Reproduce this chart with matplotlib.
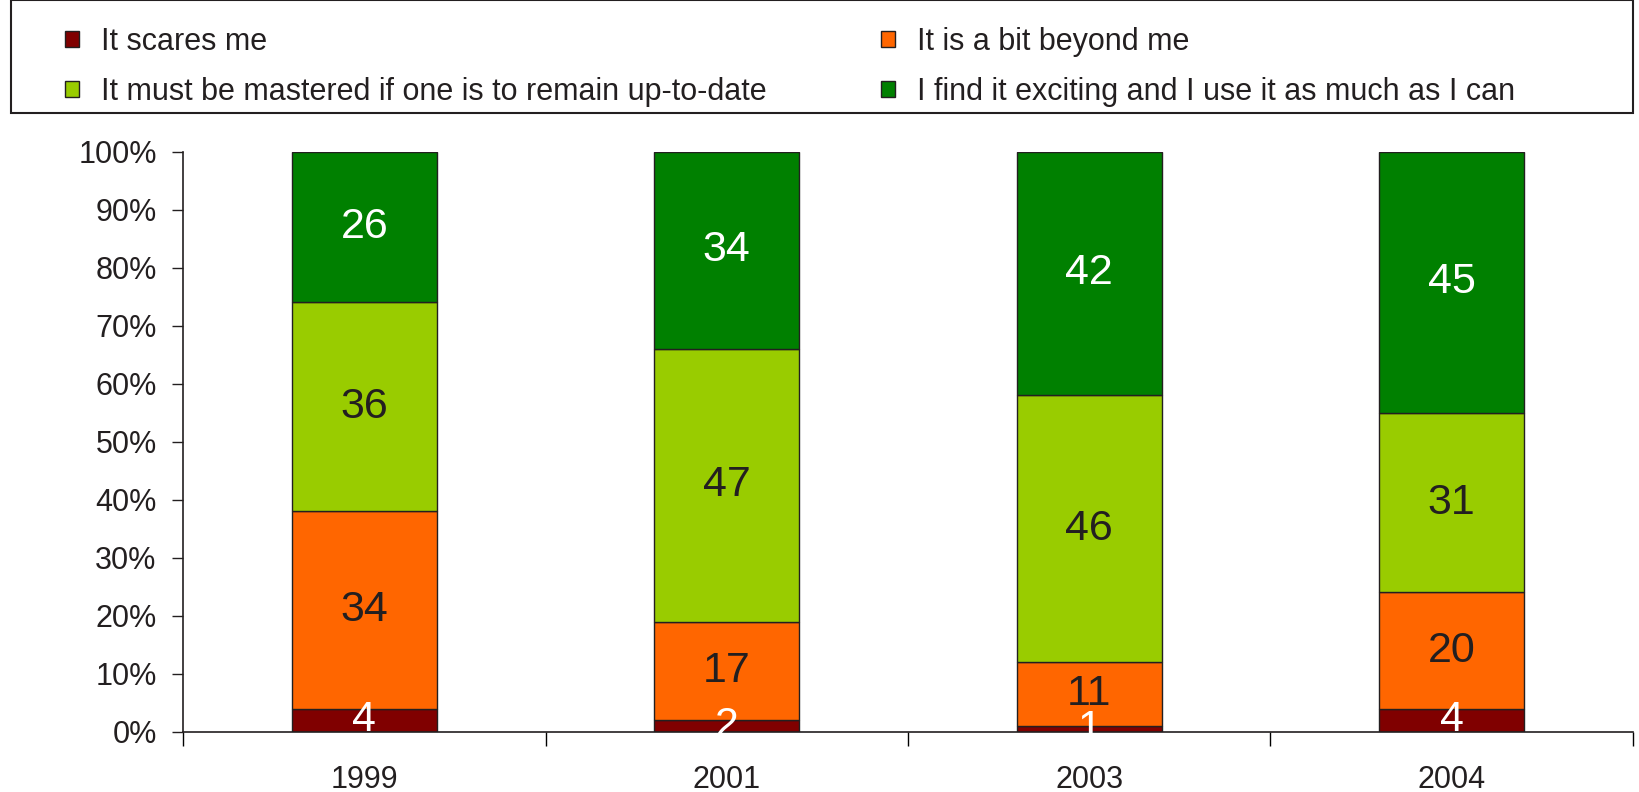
import numpy as np
import matplotlib.pyplot as plt
from matplotlib.patches import Rectangle

# anys de l'enquesta
anys = ["1999", "2001", "2003", "2004"]

# percentatges per resposta
em_fa_por = [4, 2, 1, 4]
em_supera = [34, 17, 11, 20]
cal_dominar = [36, 47, 46, 31]
em_entusiasma = [26, 34, 42, 45]

etiquetes = [
    "It scares me",
    "It is a bit beyond me",
    "It must be mastered if one is to remain up-to-date",
    "I find it exciting and I use it as much as I can",
]
colors = ["#800000", "#FF6600", "#99CC00", "#008000"]
colors_text = ["white", "#231f20", "#231f20", "white"]

plt.rcParams["font.family"] = ["Liberation Sans", "DejaVu Sans"]
text_color = "#231f20"

fig = plt.figure(figsize=(16.39, 7.92), dpi=100)
ax = fig.add_axes([0.1117, 0.0761, 0.8846, 0.7325])

x = np.arange(len(anys))
base = np.zeros(len(anys))
barres = []
for valors, label, color, tcolor in zip(
    [em_fa_por, em_supera, cal_dominar, em_entusiasma], etiquetes, colors, colors_text
):
    valors = np.array(valors)
    b = ax.bar(x, valors, 0.4, bottom=base, color=color, edgecolor=text_color,
               linewidth=1.0, label=label)
    barres.append(b)
    # numero al centre de cada tram
    for xi, v, b0 in zip(x, valors, base):
        ax.text(xi, b0 + v / 2, str(v), ha="center", va="center",
                fontsize=31, color=tcolor)
    base = base + valors

ax.set_xlim(-0.5, len(anys) - 0.5)
ax.set_ylim(0, 100)

# eix Y en percentatge
ax.set_yticks(np.arange(0, 101, 10))
ax.set_yticklabels([f"{v}%" for v in range(0, 101, 10)])
ax.tick_params(axis="y", direction="out", length=8, width=1, pad=11,
               labelsize=22, colors=text_color)

# ticks de l'eix X entre categories, etiquetes al mig
ax.set_xticks(np.arange(-0.5, len(anys), 1.0))
ax.set_xticklabels([])
ax.set_xticks(x, minor=True)
ax.set_xticklabels(anys, minor=True)
ax.tick_params(axis="x", which="major", direction="out", length=10, width=1)
ax.tick_params(axis="x", which="minor", length=0, pad=24, labelsize=22,
               labelcolor=text_color)

for s in ["top", "right"]:
    ax.spines[s].set_visible(False)
ax.spines["left"].set_color(text_color)
ax.spines["bottom"].set_color(text_color)
ax.spines["left"].set_linewidth(1.2)
ax.spines["bottom"].set_linewidth(1.2)

# llegenda a dalt amb marc propi
fig.patches.append(Rectangle((0.0065, 0.857), 0.990, 0.143, transform=fig.transFigure,
                             fill=False, edgecolor=text_color, linewidth=1.5))
leg = fig.legend(handles=[barres[0], barres[2], barres[1], barres[3]],
                 labels=[etiquetes[0], etiquetes[2], etiquetes[1], etiquetes[3]],
                 ncol=2, loc="upper left", bbox_to_anchor=(0.0397, 0.966),
                 borderaxespad=0, borderpad=0,
                 frameon=False, fontsize=22, handlelength=0.45, handleheight=0.45,
                 handletextpad=0.73, columnspacing=3.75, labelspacing=0.66,
                 labelcolor=text_color)

fig.savefig("out.png", dpi=100)
